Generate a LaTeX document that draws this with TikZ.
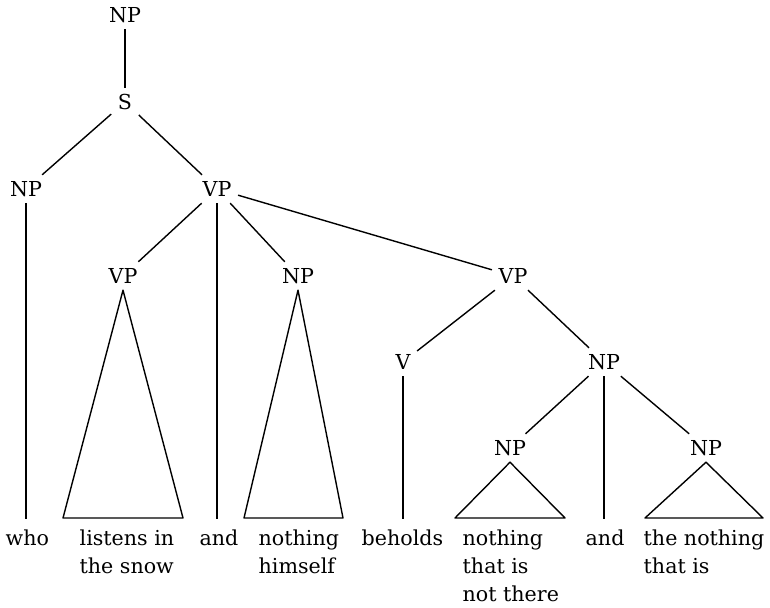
\documentclass[tikz,border=0pt]{standalone}
\usepackage{fontspec}
\setmainfont{DejaVu Serif}
\begin{document}
\begin{tikzpicture}[x=0.5pt,y=-0.5pt,line width=0.7pt,line join=round,
  font=\fontsize{10.3}{14}\selectfont,
  lab/.style={inner sep=3pt,text height=7.5pt,text depth=0pt},
  leaf/.style={anchor=north west,align=left,inner sep=0pt}]
  \useasboundingbox (0,0) rectangle (770,608);

  % 节点
  \node[lab] (np0) at (125,15) {NP};
  \node[lab] (s) at (125,102) {S};
  \node[lab] (np1) at (26,189) {NP};
  \node[lab] (vp1) at (217,189) {VP};
  \node[lab] (vp2) at (123,276) {VP};
  \node[lab] (np2) at (298,276) {NP};
  \node[lab] (vp3) at (513,276) {VP};
  \node[lab] (v) at (403,362) {V};
  \node[lab] (np3) at (604,362) {NP};
  \node[lab] (np4) at (510,448) {NP};
  \node[lab] (np5) at (706,448) {NP};

  % 叶子
  \node[leaf] (who) at (5,529) {who};
  \node[leaf] (listens) at (79,529) {listens in\\the snow};
  \node[leaf] (and1) at (199,529) {and};
  \node[leaf] (himself) at (258,529) {nothing\\himself};
  \node[leaf] (beholds) at (361,529) {beholds};
  \node[leaf] (notthere) at (462,529) {nothing\\that is\\not there};
  \node[leaf] (and2) at (585,529) {and};
  \node[leaf] (thatis) at (643,529) {the nothing\\that is};

  % 树枝
  \draw (np0) -- (s);
  \draw (s) -- (np1);
  \draw (s) -- (vp1);
  \draw (vp1) -- (vp2);
  \draw (vp1) -- (np2);
  \draw (vp1) -- (vp3);
  \draw (vp3) -- (v);
  \draw (vp3) -- (np3);
  \draw (np3) -- (np4);
  \draw (np3) -- (np5);

  % 竖线
  \draw (np1) -- ([yshift=5pt]np1 |- who.north);
  \draw (vp1) -- ([yshift=5pt]vp1 |- and1.north);
  \draw (v) -- ([yshift=5pt]v |- beholds.north);
  \draw (np3) -- ([yshift=5pt]np3 |- and2.north);

  % 三角形
  \draw (vp2.south) -- (63,518) -- (183,518) -- cycle;
  \draw (np2.south) -- (244,518) -- (343,518) -- cycle;
  \draw (np4.south) -- (455,518) -- (565,518) -- cycle;
  \draw (np5.south) -- (645,518) -- (763,518) -- cycle;
\end{tikzpicture}
\end{document}
